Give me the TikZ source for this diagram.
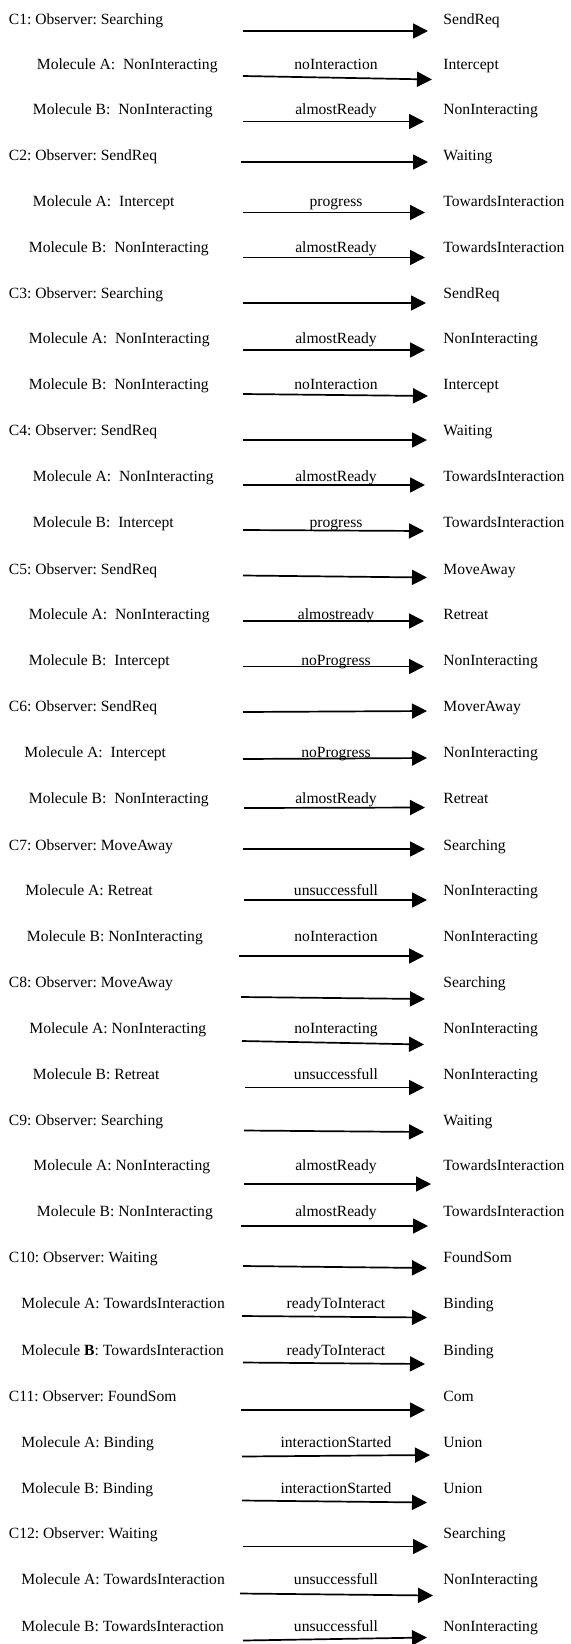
\documentclass[tikz,border=0pt]{standalone}
\usepackage{fontspec}
\setmainfont{Liberation Serif}
\usetikzlibrary{arrows.meta}
\frenchspacing
\begin{document}
\begin{tikzpicture}[x=0.5pt,y=-0.5pt,
  statetxt/.style={anchor=base west, inner sep=0pt, font=\fontsize{7.8pt}{9pt}\selectfont\frenchspacing},
  eventtxt/.style={anchor=base, inner sep=0pt, font=\fontsize{7.8pt}{9pt}\selectfont\frenchspacing},
  trans/.style={line width=0.85pt, -{Triangle[length=7.5pt,width=7.5pt]}}]
\useasboundingbox (0,0) rectangle (570,1644);
\def\noevent{}
% row / left x / text y / current state / event / next state / arrow start / arrow end
\foreach \n/\lx/\ty/\ltext/\lab/\rtext/\ax/\ay/\bx/\by in {
 1/8.5/19.5/{C1: Observer: Searching}/{}/SendReq/243/31/428/31,
 2/36.5/64/{Molecule A:~ NonInteracting}/noInteraction/Intercept/243/76/432/79.5,
 3/32.5/109/{Molecule B:~ NonInteracting}/almostReady/NonInteracting/243/121.5/424/121.5,
 4/8.5/155/{C2: Observer: SendReq}/{}/Waiting/241/162/428/162,
 5/32.5/201/{Molecule A:~ Intercept}/progress/TowardsInteraction/243/212.5/425/212.5,
 6/28.5/247/{Molecule B:~ NonInteracting}/almostReady/TowardsInteraction/243/257.5/425/257.5,
 7/8.5/293/{C3: Observer: Searching}/{}/SendReq/243/303/426/303,
 8/28.5/338.5/{Molecule A:~ NonInteracting}/almostReady/NonInteracting/243/350/425/350,
 9/28.5/384.5/{Molecule B:~ NonInteracting}/noInteraction/Intercept/243/394/428/396,
 10/8.5/430.5/{C4: Observer: SendReq}/{}/Waiting/243/440/427/440,
 11/32.5/476.5/{Molecule A:~ NonInteracting}/almostReady/TowardsInteraction/243/485/425/485,
 12/32.5/522.5/{Molecule B:~ Intercept}/progress/TowardsInteraction/243/530/424/531,
 13/8.5/569/{C5: Observer: SendReq}/{}/MoveAway/243/575.5/427/577.5,
 14/28.5/614.5/{Molecule A:~ NonInteracting}/almostready/Retreat/243/621/424/621,
 15/28.5/660.5/{Molecule B:~ Intercept}/noProgress/NonInteracting/243/666.5/424/666.5,
 16/8.5/706/{C6: Observer: SendReq}/{}/MoverAway/243/712/427/711,
 17/24/752/{Molecule A:~ Intercept}/noProgress/NonInteracting/243/759/427/758,
 18/28.5/798.5/{Molecule B:~ NonInteracting}/almostReady/Retreat/244/808/425/807.5,
 19/8.5/845/{C7: Observer: MoveAway}/{}/Searching/243/849/425/849,
 20/25/890.5/{Molecule A: Retreat}/unsuccessfull/NonInteracting/244/900/427/900,
 21/26.5/936/{Molecule B: NonInteracting}/noInteraction/NonInteracting/239/956/424/956,
 22/8.5/982/{C8: Observer: MoveAway}/{}/Searching/241/997/425/999,
 23/29/1028/{Molecule A: NonInteracting}/noInteracting/NonInteracting/242/1041/424/1044.5,
 24/32.5/1074/{Molecule B: Retreat}/unsuccessfull/NonInteracting/245/1087.5/424/1087.5,
 25/8.5/1120/{C9: Observer: Searching}/{}/Waiting/244/1130.5/424/1132,
 26/33/1165/{Molecule A: NonInteracting}/almostReady/TowardsInteraction/244/1184/431/1184,
 27/36.5/1211/{Molecule B: NonInteracting}/almostReady/TowardsInteraction/241/1226/428/1226,
 28/8.5/1257/{C10: Observer: Waiting}/{}/FoundSom/243/1266/427/1268,
 29/21/1303.5/{Molecule A: TowardsInteraction}/readyToInteract/Binding/242/1316/427/1317.5,
 30/21/1350/{Molecule \textbf{B}: TowardsInteraction}/readyToInteract/Binding/243/1362.5/425/1364,
 31/8.5/1396/{C11: Observer: FoundSom}/{}/Com/241/1410/425/1410,
 32/21/1442/{Molecule A: Binding}/interactionStarted/Union/242/1456.5/430/1455,
 33/21/1488/{Molecule B: Binding}/interactionStarted/Union/242/1500.5/427/1502.5,
 34/8.5/1533.5/{C12: Observer: Waiting}/{}/Searching/243/1546.5/428/1546.5,
 35/21/1579.5/{Molecule A: TowardsInteraction}/unsuccessfull/NonInteracting/240/1593.5/433/1595.5,
 36/21/1626/{Molecule B: TowardsInteraction}/unsuccessfull/NonInteracting/243/1640.5/427/1637.5}{
  \node[statetxt] (cur\n) at (\lx,\ty+5) {\ltext};
  \node[statetxt] (nxt\n) at (443,\ty+5) {\rtext};
  \edef\thisevent{\lab}%
  \ifx\thisevent\noevent\else
    \node[eventtxt] (ev\n) at (336,\ty+5) {\lab};
  \fi
  \coordinate (src\n) at (\ax,\ay);
  \coordinate (dst\n) at (\bx,\by);
  \draw[trans] (src\n) -- (dst\n);
}
\end{tikzpicture}
\end{document}
